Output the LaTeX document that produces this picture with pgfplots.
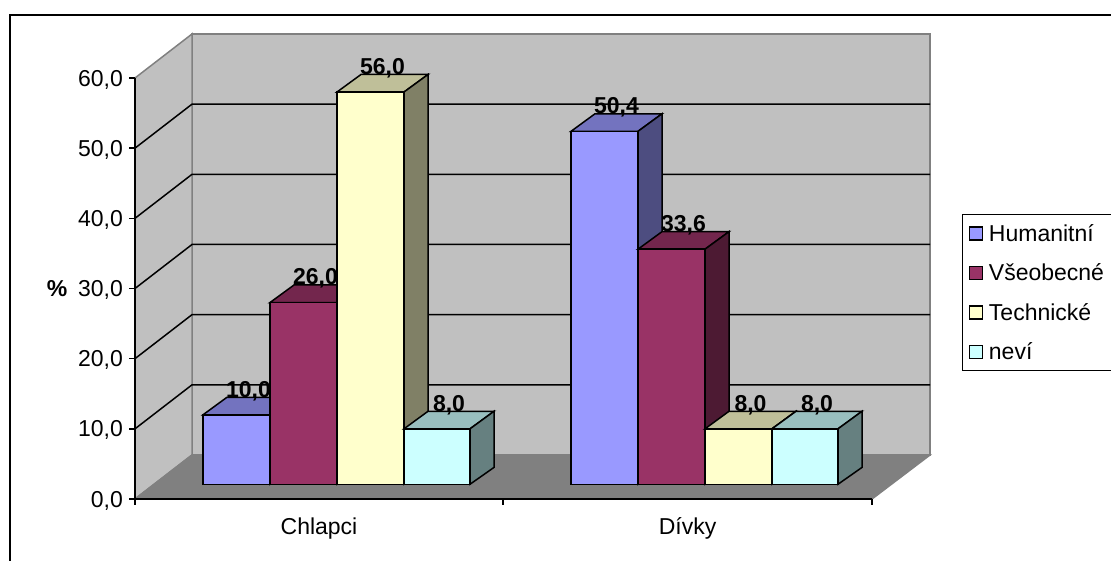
\documentclass[border=0pt]{standalone}
\usepackage{pgfplots}
\pgfplotsset{compat=1.18}
\usepackage{fontspec}
\setmainfont{Liberation Sans}

% Excel-style shading: front, top and side faces for each series
\definecolor{humF}{HTML}{9999FF}\definecolor{humT}{HTML}{7373BF}\definecolor{humS}{HTML}{4D4D80}
\definecolor{vseF}{HTML}{993366}\definecolor{vseT}{HTML}{73264D}\definecolor{vseS}{HTML}{4D1A33}
\definecolor{tecF}{HTML}{FFFFCC}\definecolor{tecT}{HTML}{BFBF99}\definecolor{tecS}{HTML}{808066}
\definecolor{nevF}{HTML}{CCFFFF}\definecolor{nevT}{HTML}{99BFBF}\definecolor{nevS}{HTML}{668080}
\definecolor{wall}{HTML}{C0C0C0}
\definecolor{floorc}{HTML}{808080}

\newcommand{\chartfont}{\fontsize{23}{27}\selectfont}

% One oblique column: #1 left, #2 right, #3 value, #4 series prefix
\newcommand{\column}[4]{%
  \pgfmathsetmacro{\yBase}{2.1}%
  \pgfmathsetmacro{\yBaseB}{4.5}%
  \pgfmathsetmacro{\yTop}{#3+2}%
  \pgfmathsetmacro{\yTopB}{#3+4.5}%
  \pgfmathsetmacro{\xL}{#1+24}%
  \pgfmathsetmacro{\xR}{#2+24}%
  \addplot[forget plot,barline,fill=#4T] coordinates {(#1,\yTop) (#2,\yTop) (\xR,\yTopB) (\xL,\yTopB)} -- cycle;
  \addplot[forget plot,barline,fill=#4S] coordinates {(#2,\yBase) (\xR,\yBaseB) (\xR,\yTopB) (#2,\yTop)} -- cycle;
  \addplot[forget plot,barline,fill=#4F] coordinates {(#1,\yBase) (#2,\yBase) (#2,\yTop) (#1,\yTop)} -- cycle;
}
% Value above the top face of a column
\newcommand{\columnlabel}[3]{%
  \node[anchor=base,inner sep=0pt,font=\chartfont\bfseries] at (axis cs:{(#1+#2)/2+12},{#3+4.5})
    {\pgfmathprintnumber[fixed,fixed zerofill,precision=1,use comma,assume math mode=true]{#3}};
}
\newcommand{\swatch}[1]{%
  \addlegendimage{legend image code/.code={%
    \draw[line width=1.5pt,fill=#1] (0pt,-6.5pt) rectangle (13pt,6.5pt);}}%
}

\begin{document}
\begin{tikzpicture}
\path[use as bounding box] (0,0) rectangle (1111pt,561pt);
% Chart area border, open towards the page edge
\draw[line width=2pt] (9.5pt,-2pt) -- (9.5pt,546pt) -- (1113pt,546pt);
\begin{axis}[
  barline/.style={draw=black,line width=1.5pt,line join=miter},
  at={(135pt,62pt)},anchor=origin,
  scale only axis,width=737pt,height=421pt,
  xmin=135,xmax=872,ymin=0,ymax=60,
  clip=false,axis on top,
  axis x line*=bottom,axis y line*=left,
  axis line style={line width=1.5pt,-},
  tick align=outside,
  major tick length=6pt,minor tick length=6pt,
  tick style={line width=1.5pt,black},
  ytick={0,10,20,30,40,50,60},
  xtick={319,687.5},
  xticklabels={Chlapci,Dívky},
  minor xtick={135,503,872},
  xtick style={draw=none},
  minor x tick style={draw=black,line width=1.5pt},
  tick label style={font=\chartfont},
  /pgf/number format/fixed,
  /pgf/number format/fixed zerofill,
  /pgf/number format/precision=1,
  /pgf/number format/use comma,
  /pgf/number format/assume math mode=true,
  y tick label style={inner sep=0pt,xshift=-6pt,yshift=-1.5pt},
  x tick label style={yshift=-9pt},
  ylabel={\%},
  every axis y label/.style={at={(axis description cs:-0.1058,0.5)},anchor=center,font=\chartfont\bfseries},
  legend style={at={(axis description cs:1.1217,0.677)},anchor=north west,draw=black,line width=1.5pt,
    font=\chartfont,inner xsep=6.5pt,inner ysep=6.5pt,row sep=15pt,
    nodes={inner xsep=5.5pt,inner ysep=3pt}},
  legend cell align=left,
]
% Walls and floor of the plot box
\addplot[forget plot,draw=floorc,line width=1.5pt,fill=wall] coordinates {(192,6.27) (930,6.27) (930,66.27) (192,66.27)} -- cycle;
\addplot[forget plot,draw=floorc,line width=1.5pt,fill=wall] coordinates {(135,0) (192,6.27) (192,66.27) (135,60)} -- cycle;
\addplot[forget plot,draw=floorc,line width=1.5pt,fill=floorc] coordinates {(135,0) (872,0) (930,6.27) (192,6.27)} -- cycle;
% Grid lines across the side and back walls
\addplot[forget plot,black,line width=1.5pt] coordinates {(135,10) (192,16.27) (930,16.27)};
\addplot[forget plot,black,line width=1.5pt] coordinates {(135,20) (192,26.27) (930,26.27)};
\addplot[forget plot,black,line width=1.5pt] coordinates {(135,30) (192,36.27) (930,36.27)};
\addplot[forget plot,black,line width=1.5pt] coordinates {(135,40) (192,46.27) (930,46.27)};
\addplot[forget plot,black,line width=1.5pt] coordinates {(135,50) (192,56.27) (930,56.27)};
% Chlapci
\column{203}{270}{10.0}{hum}
\column{270}{337}{26.0}{vse}
\column{337}{404}{56.0}{tec}
\column{404}{470}{8.0}{nev}
% Dívky
\column{571}{638}{50.4}{hum}
\column{638}{705}{33.6}{vse}
\column{705}{772}{8.0}{tec}
\column{772}{838}{8.0}{nev}
% Value labels
\columnlabel{203}{270}{10.0}
\columnlabel{270}{337}{26.0}
\columnlabel{337}{404}{56.0}
\columnlabel{404}{470}{8.0}
\columnlabel{571}{638}{50.4}
\columnlabel{638}{705}{33.6}
\columnlabel{705}{772}{8.0}
\columnlabel{772}{838}{8.0}
% Legend
\swatch{humF}\addlegendentry{Humanitní}
\swatch{vseF}\addlegendentry{Všeobecné}
\swatch{tecF}\addlegendentry{Technické}
\swatch{nevF}\addlegendentry{neví}
\end{axis}
\end{tikzpicture}
\end{document}
